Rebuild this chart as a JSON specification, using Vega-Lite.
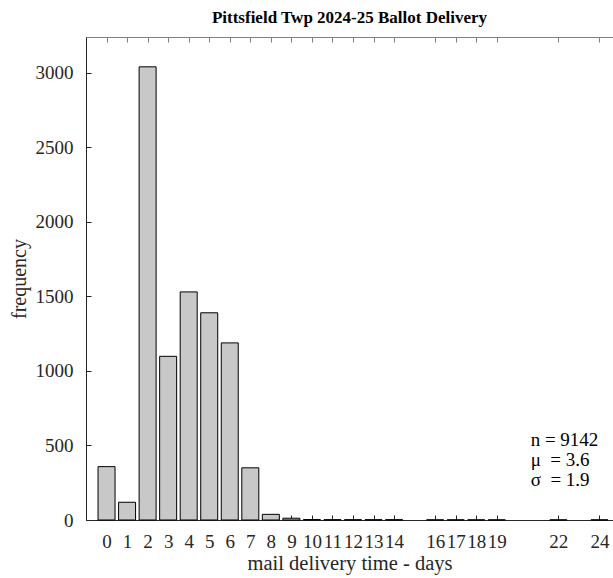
{
  "$schema": "https://vega.github.io/schema/vega-lite/v6.json",
  "width": 527,
  "height": 483,
  "autosize": {"type": "none"},
  "padding": {"left": 86, "top": 37, "right": 0, "bottom": 58},
  "background": "white",
  "title": {"text": "Pittsfield Twp 2024-25 Ballot Delivery", "font": "Liberation Serif", "fontSize": 17, "fontWeight": "bold", "color": "#000000", "offset": 10, "anchor": "middle"},
  "config": {"view": {"stroke": null}, "font": "Liberation Serif"},
  "resolve": {"axis": {"x": "independent"}},
  "layer": [
    {
      "data": {"values": [
        {"days": 0, "frequency": 358},
        {"days": 1, "frequency": 119},
        {"days": 2, "frequency": 3040},
        {"days": 3, "frequency": 1098},
        {"days": 4, "frequency": 1530},
        {"days": 5, "frequency": 1390},
        {"days": 6, "frequency": 1188},
        {"days": 7, "frequency": 350},
        {"days": 8, "frequency": 38},
        {"days": 9, "frequency": 12},
        {"days": 10, "frequency": 3},
        {"days": 11, "frequency": 2},
        {"days": 12, "frequency": 2},
        {"days": 13, "frequency": 2},
        {"days": 14, "frequency": 2},
        {"days": 16, "frequency": 1},
        {"days": 17, "frequency": 1},
        {"days": 18, "frequency": 1},
        {"days": 19, "frequency": 1},
        {"days": 22, "frequency": 1},
        {"days": 24, "frequency": 1}
      ]},
      "mark": {"type": "bar", "width": 17, "fill": "#c8c8c8", "stroke": "#000000", "strokeWidth": 1},
      "encoding": {
        "x": {"field": "days", "type": "quantitative",
          "scale": {"domain": [-1, 24.66], "nice": false, "zero": false, "padding": 0},
          "axis": {"orient": "bottom", "values": [0,1,2,3,4,5,6,7,8,9,10,11,12,13,14,16,17,18,19,22,24],
            "format": "d", "tickSize": -5, "labelPadding": 17, "labelFontSize": 19, "labelColor": "#262626",
            "labelFlush": false, "labelOverlap": false, "labelBaseline": "top",
            "title": "mail delivery time - days", "titleFontSize": 20.5, "titleFontWeight": "normal", "titleColor": "#262626", "titlePadding": 2,
            "domainColor": "#262626", "tickColor": "#262626", "grid": false}},
        "y": {"field": "frequency", "type": "quantitative",
          "scale": {"domain": [0, 3240], "nice": false},
          "axis": {"values": [0,500,1000,1500,2000,2500,3000], "format": "d", "tickSize": -5, "labelPadding": 18,
            "labelFontSize": 19, "labelColor": "#262626",
            "title": "frequency", "titleFontSize": 20, "titleFontWeight": "normal", "titleColor": "#262626", "titlePadding": 6,
            "domainColor": "#262626", "tickColor": "#262626", "grid": false}}
      }
    },
    {
      "data": {"values": [{"label": "stats"}]},
      "mark": {"type": "text", "text": ["n = 9142", "μ\u00a0 = 3.6", "σ\u00a0 = 1.9"], "align": "left", "baseline": "middle", "fontSize": 19, "lineHeight": 20, "color": "#000000"},
      "encoding": {
        "x": {"datum": 20.65, "type": "quantitative",
          "scale": {"domain": [-1, 24.66], "nice": false, "zero": false, "padding": 0},
          "axis": {"orient": "top", "values": [0,1,2,3,4,5,6,7,8,9,10,11,12,13,14,16,17,18,19,22,24],
            "labels": false, "title": null, "tickSize": -5, "domainColor": "#808080", "tickColor": "#808080", "grid": false}},
        "y": {"datum": 538, "type": "quantitative"}
      }
    }
  ]
}
